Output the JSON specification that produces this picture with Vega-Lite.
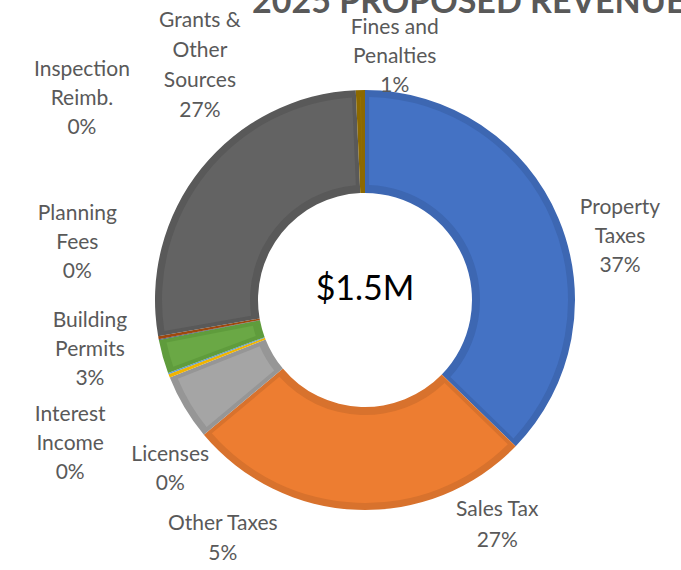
{
  "$schema": "https://vega.github.io/schema/vega-lite/v6.json",
  "width": 632,
  "height": 540,
  "autosize": {"type": "none"},
  "padding": {"left": 49, "top": 30, "right": 0, "bottom": 0},
  "background": "white",
  "config": {"view": {"stroke": null}},
  "title": {"text": "2025 PROPOSED REVENUE", "anchor": "start", "frame": "group", "orient": "top", "baseline": "alphabetic", "offset": 0, "dx": 203, "dy": 37, "font": "Lato", "fontSize": 34, "fontWeight": "bold", "color": "#595959"},
  "data": {"values": [
    {"category": "Property Taxes", "label": "Property\nTaxes\n37%", "value": 559000},
    {"category": "Sales Tax", "label": "Sales Tax\n27%", "value": 400000},
    {"category": "Other Taxes", "label": "Other Taxes\n5%", "value": 76000},
    {"category": "Licenses", "label": "Licenses\n0%", "value": 4000},
    {"category": "Interest Income", "label": "Interest\nIncome\n0%", "value": 1500},
    {"category": "Building Permits", "label": "Building\nPermits\n3%", "value": 39000},
    {"category": "Planning Fees", "label": "Planning\nFees\n0%", "value": 750},
    {"category": "Inspection Reimb.", "label": "Inspection\nReimb.\n0%", "value": 3500},
    {"category": "Grants & Other Sources", "label": "Grants &\nOther\nSources\n27%", "value": 406000},
    {"category": "Fines and Penalties", "label": "Fines and\nPenalties\n1%", "value": 10500}
  ]},
  "layer": [
    {
      "transform": [
        {"stack": "value", "groupby": [], "as": ["v0", "v1"]}
      ],
      "resolve": {"scale": {"color": "independent"}},
      "layer": [
        {
          "mark": {"type": "arc", "radius": 210, "radius2": 107},
          "encoding": {
            "theta": {"field": "v1", "type": "quantitative", "scale": {"nice": false}},
            "theta2": {"field": "v0"},
            "color": {"field": "category", "type": "nominal", "legend": null,
              "scale": {"domain": ["Property Taxes", "Sales Tax", "Other Taxes", "Licenses", "Interest Income", "Building Permits", "Planning Fees", "Inspection Reimb.", "Grants & Other Sources", "Fines and Penalties"],
                        "range": ["#3D67B2", "#D8722D", "#969696", "#F0B400", "#5B9BD5", "#5F9C3C", "#264478", "#9E480E", "#595959", "#8C6900"]}}
          }
        },
        {
          "mark": {"type": "arc", "radius": 203, "radius2": 115, "padAngle": 0.035},
          "encoding": {
            "theta": {"field": "v1", "type": "quantitative"},
            "theta2": {"field": "v0"},
            "color": {"field": "category", "type": "nominal", "legend": null,
              "scale": {"domain": ["Property Taxes", "Sales Tax", "Other Taxes", "Licenses", "Interest Income", "Building Permits", "Planning Fees", "Inspection Reimb.", "Grants & Other Sources", "Fines and Penalties"],
                        "range": ["#4472C4", "#ED7D31", "#A5A5A5", "#FFC000", "#5B9BD5", "#6AA845", "#264478", "#9E480E", "#636363", "#997300"]}}
          }
        },
        {
          "transform": [{"filter": "datum.category === 'Property Taxes'"}],
          "mark": {"type": "text", "radius": 240, "dx": 255, "dy": 147.5, "align": "center", "baseline": "middle", "lineBreak": "\n", "lineHeight": 29, "font": "Lato", "fontSize": 21, "fill": "#595959"},
          "encoding": {"theta": {"field": "v0", "type": "quantitative"}, "text": {"field": "label", "type": "nominal"}}
        },
        {
          "transform": [{"filter": "datum.category === 'Sales Tax'"}],
          "mark": {"type": "text", "radius": 240, "dx": -40, "dy": 42.6, "align": "center", "baseline": "middle", "lineBreak": "\n", "lineHeight": 31, "font": "Lato", "fontSize": 21, "fill": "#595959"},
          "encoding": {"theta": {"field": "v0", "type": "quantitative"}, "text": {"field": "label", "type": "nominal"}}
        },
        {
          "transform": [{"filter": "datum.category === 'Other Taxes'"}],
          "mark": {"type": "text", "radius": 240, "dx": 42, "dy": 70, "align": "center", "baseline": "middle", "lineBreak": "\n", "lineHeight": 30, "font": "Lato", "fontSize": 21, "fill": "#595959"},
          "encoding": {"theta": {"field": "v0", "type": "quantitative"}, "text": {"field": "label", "type": "nominal"}}
        },
        {
          "transform": [{"filter": "datum.category === 'Licenses'"}],
          "mark": {"type": "text", "radius": 240, "dx": 28.3, "dy": 66.1, "align": "center", "baseline": "middle", "lineBreak": "\n", "lineHeight": 29, "font": "Lato", "fontSize": 21, "fill": "#595959"},
          "encoding": {"theta": {"field": "v0", "type": "quantitative"}, "text": {"field": "label", "type": "nominal"}}
        },
        {
          "transform": [{"filter": "datum.category === 'Interest Income'"}],
          "mark": {"type": "text", "radius": 240, "dx": -70.3, "dy": 30.3, "align": "center", "baseline": "middle", "lineBreak": "\n", "lineHeight": 29, "font": "Lato", "fontSize": 21, "fill": "#595959"},
          "encoding": {"theta": {"field": "v0", "type": "quantitative"}, "text": {"field": "label", "type": "nominal"}}
        },
        {
          "transform": [{"filter": "datum.category === 'Building Permits'"}],
          "mark": {"type": "text", "radius": 240, "dx": -50, "dy": -62.7, "align": "center", "baseline": "middle", "lineBreak": "\n", "lineHeight": 29, "font": "Lato", "fontSize": 21, "fill": "#595959"},
          "encoding": {"theta": {"field": "v0", "type": "quantitative"}, "text": {"field": "label", "type": "nominal"}}
        },
        {
          "transform": [{"filter": "datum.category === 'Planning Fees'"}],
          "mark": {"type": "text", "radius": 240, "dx": -52.1, "dy": -131.3, "align": "center", "baseline": "middle", "lineBreak": "\n", "lineHeight": 29, "font": "Lato", "fontSize": 21, "fill": "#595959"},
          "encoding": {"theta": {"field": "v0", "type": "quantitative"}, "text": {"field": "label", "type": "nominal"}}
        },
        {
          "transform": [{"filter": "datum.category === 'Inspection Reimb.'"}],
          "mark": {"type": "text", "radius": 240, "dx": -47.3, "dy": -274.7, "align": "center", "baseline": "middle", "lineBreak": "\n", "lineHeight": 29, "font": "Lato", "fontSize": 21, "fill": "#595959"},
          "encoding": {"theta": {"field": "v0", "type": "quantitative"}, "text": {"field": "label", "type": "nominal"}}
        },
        {
          "transform": [{"filter": "datum.category === 'Grants & Other Sources'"}],
          "mark": {"type": "text", "radius": 240, "dx": 71.3, "dy": -320.7, "align": "center", "baseline": "middle", "lineBreak": "\n", "lineHeight": 30, "font": "Lato", "fontSize": 21, "fill": "#595959"},
          "encoding": {"theta": {"field": "v0", "type": "quantitative"}, "text": {"field": "label", "type": "nominal"}}
        },
        {
          "transform": [{"filter": "datum.category === 'Fines and Penalties'"}],
          "mark": {"type": "text", "radius": 240, "dx": 40.3, "dy": -32.2, "align": "center", "baseline": "middle", "lineBreak": "\n", "lineHeight": 29, "font": "Lato", "fontSize": 21, "fill": "#595959"},
          "encoding": {"theta": {"field": "v0", "type": "quantitative"}, "text": {"field": "label", "type": "nominal"}}
        }
      ]
    },
    {
      "mark": {"type": "text", "align": "center", "baseline": "middle", "dy": -10, "font": "Lato", "fontSize": 34, "fill": "#000000"},
      "encoding": {"text": {"aggregate": "sum", "field": "value", "type": "quantitative", "format": "$.2s"}}
    }
  ]
}
